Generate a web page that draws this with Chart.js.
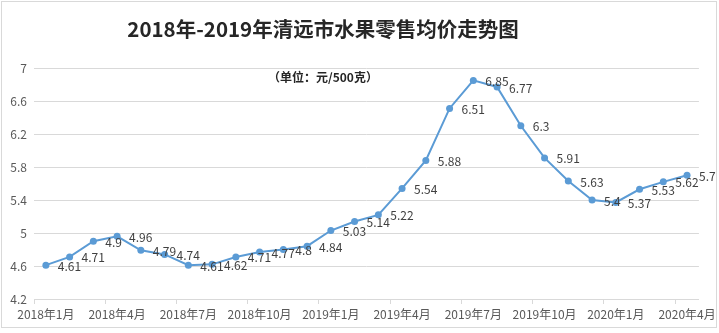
<!DOCTYPE html>
<html>
<head>
<meta charset="utf-8">
<title>2018年-2019年清远市水果零售均价走势图</title>
<script src="https://cdn.jsdelivr.net/npm/chart.js@4/dist/chart.umd.min.js"></script>
<style>
    html, body { margin: 0; padding: 0; background: #ffffff; }
    #chart { display: block; }
</style>
</head>
<body>
<canvas id="chart" width="719" height="333"></canvas>
<script>
// --- Chart data ---
const months = [
    '2018年1月', '2018年2月', '2018年3月', '2018年4月', '2018年5月', '2018年6月',
    '2018年7月', '2018年8月', '2018年9月', '2018年10月', '2018年11月', '2018年12月',
    '2019年1月', '2019年2月', '2019年3月', '2019年4月', '2019年5月', '2019年6月',
    '2019年7月', '2019年8月', '2019年9月', '2019年10月', '2019年11月', '2019年12月',
    '2020年1月', '2020年2月', '2020年3月', '2020年4月'
];
const avgPrice = [
    4.61, 4.71, 4.9, 4.96, 4.79, 4.74,
    4.61, 4.62, 4.71, 4.77, 4.8, 4.84,
    5.03, 5.14, 5.22, 5.54, 5.88, 6.51,
    6.85, 6.77, 6.3, 5.91, 5.63, 5.4,
    5.37, 5.53, 5.62, 5.7
];
const yTicks = [4.2, 4.6, 5, 5.4, 5.8, 6.2, 6.6, 7];

const chartTitle = '2018年-2019年清远市水果零售均价走势图';
const chartUnit = '（单位：元/500克）';

const FONT = '"Noto Sans CJK SC", "Microsoft YaHei", sans-serif';
const LINE_COLOR = '#5b9bd5';
const GRID_COLOR = '#d9d9d9';

// Title, unit note, point labels and the outer frame
const decorPlugin = {
    id: 'decor',
    afterDraw(chart) {
        const ctx = chart.ctx;
        ctx.save();

        // outer frame
        ctx.strokeStyle = GRID_COLOR;
        ctx.lineWidth = 1;
        ctx.strokeRect(1.5, 1.5, 715, 326);

        // title
        ctx.fillStyle = '#262626';
        ctx.textAlign = 'center';
        ctx.textBaseline = 'middle';
        ctx.font = `bold 20.5px ${FONT}`;
        ctx.fillText(chartTitle, 323, 29);

        // unit note
        ctx.fillStyle = '#262626';
        ctx.font = `bold 12px ${FONT}`;
        ctx.fillText(chartUnit, 323, 77);

        // value labels to the right of each point
        const meta = chart.getDatasetMeta(0);
        ctx.fillStyle = '#404040';
        ctx.font = `12px ${FONT}`;
        ctx.textAlign = 'left';
        meta.data.forEach((pt, i) => {
            ctx.fillText(String(avgPrice[i]), pt.x + 12, pt.y + 1);
        });

        ctx.restore();
    }
};

const chart = new Chart(document.getElementById('chart').getContext('2d'), {
    type: 'line',
    data: {
        labels: months,
        datasets: [{
            label: '水果零售均价',
            data: avgPrice,
            borderColor: LINE_COLOR,
            backgroundColor: LINE_COLOR,
            borderWidth: 2,
            pointRadius: 3.5,
            pointBorderWidth: 0,
            pointBackgroundColor: LINE_COLOR,
            tension: 0
        }]
    },
    options: {
        responsive: false,
        animation: false,
        layout: { padding: { top: 68, right: 17, left: 0, bottom: 0 } },
        plugins: {
            legend: { display: false },
            title: { display: false },
            tooltip: { enabled: false }
        },
        scales: {
            x: {
                type: 'category',
                offset: true,
                grid: {
                    offset: true,
                    drawOnChartArea: false,
                    drawTicks: true,
                    tickLength: 5,
                    color: ctx => (ctx.index !== undefined && ctx.index % 3 === 0) ? GRID_COLOR : 'rgba(0,0,0,0)'
                },
                border: { display: true, color: GRID_COLOR },
                ticks: {
                    autoSkip: false,
                    maxRotation: 0,
                    minRotation: 0,
                    padding: 3,
                    color: '#595959',
                    font: { family: FONT, size: 12 },
                    callback: (val, i) => (i % 3 === 0 ? months[i] : '')
                },
                afterFit: scale => { scale.height = 34; }
            },
            y: {
                min: 4.2,
                max: 7,
                afterBuildTicks: scale => { scale.ticks = yTicks.map(v => ({ value: v })); },
                grid: { color: GRID_COLOR, drawTicks: false },
                border: { display: false },
                ticks: {
                    padding: 7,
                    color: '#595959',
                    font: { family: FONT, size: 12 },
                    callback: v => String(v)
                },
                afterFit: scale => { scale.width = 34; }
            }
        }
    },
    plugins: [decorPlugin]
});
</script>
</body>
</html>
